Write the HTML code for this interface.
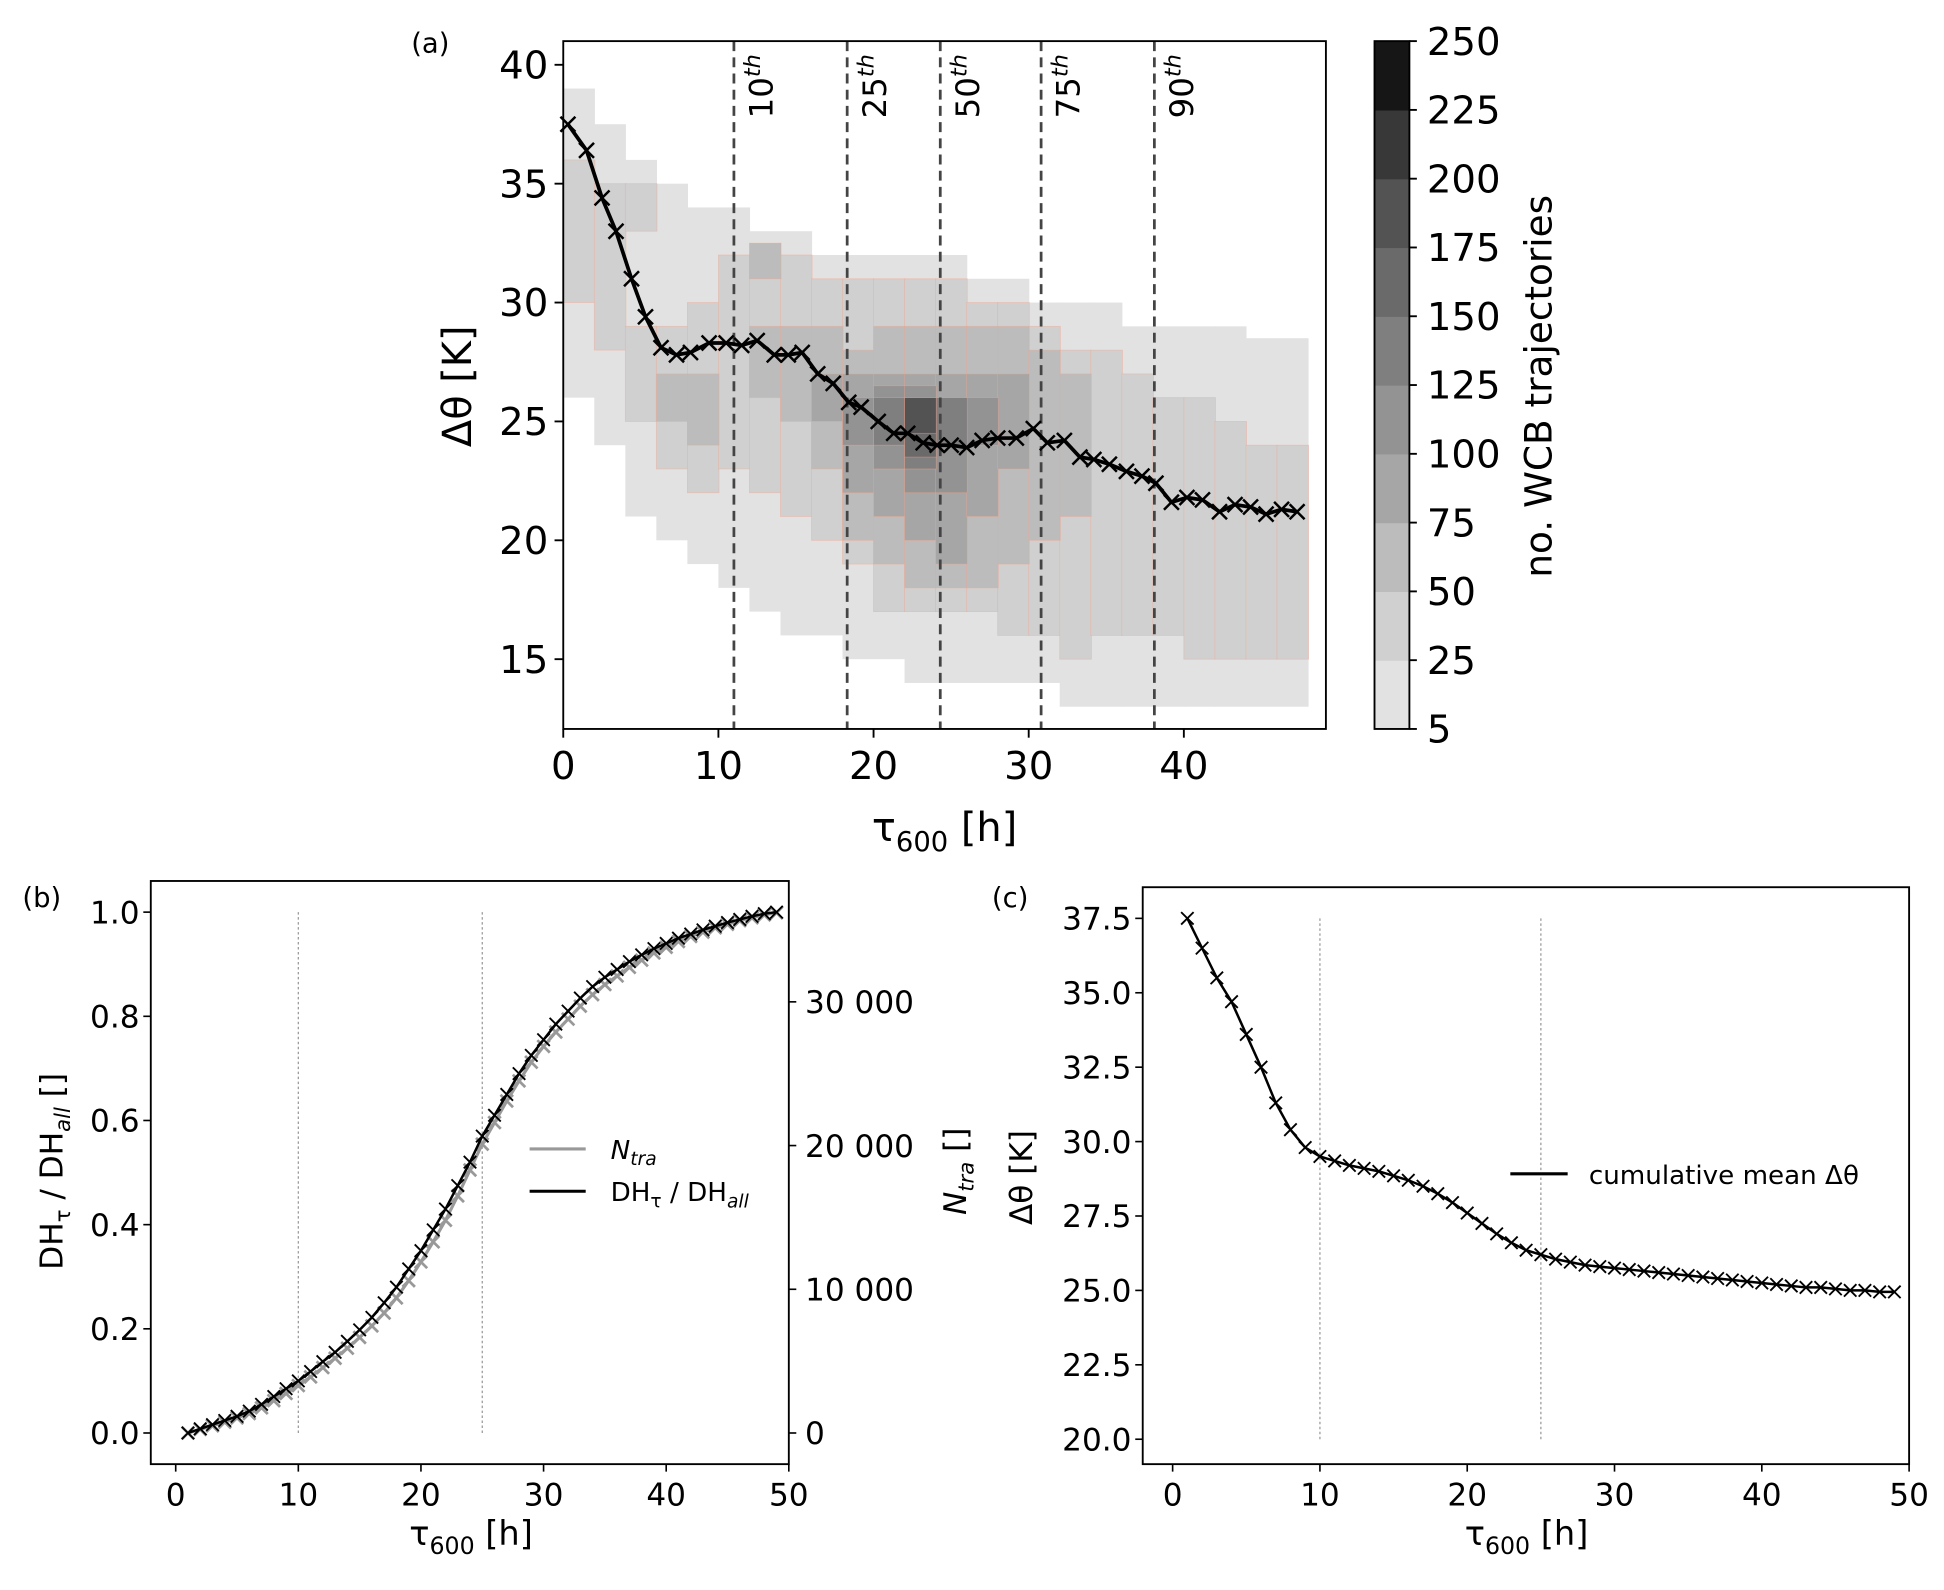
<!DOCTYPE html>
<html><head><meta charset="utf-8"><style>
html,body{margin:0;padding:0;background:#fff}
svg{display:block}
text{font-family:"DejaVu Sans","Liberation Sans",sans-serif;fill:#000}
</style></head><body>
<svg id="fig" width="1944" height="1590" viewBox="0 0 1560 1276" preserveAspectRatio="none" xmlns="http://www.w3.org/2000/svg">
<g id="pa"></g>
<g id="pb"></g>
<g id="pc"></g>
</svg>
<script>
// ---------- Panel (a) data ----------
const aMeanX=[0.3,1.5,2.5,3.4,4.4,5.3,6.3,7.3,8.2,9.4,10.5,11.5,12.5,13.6,14.5,15.4,16.4,17.4,18.4,19.2,20.3,21.3,22.2,23.2,24.1,25,26,27,28,29.2,30.3,31.2,32.3,33.3,34.2,35.2,36.3,37.3,38.2,39.2,40.2,41.2,42.3,43.3,44.3,45.3,46.3,47.3];
const aMeanY=[37.5,36.4,34.4,33,31,29.4,28.1,27.8,27.9,28.3,28.3,28.2,28.4,27.8,27.8,27.9,27,26.6,25.8,25.6,25,24.5,24.5,24.1,24,24,23.9,24.2,24.3,24.3,24.7,24.1,24.2,23.5,23.4,23.2,22.9,22.7,22.4,21.6,21.8,21.7,21.2,21.5,21.4,21.1,21.3,21.2];
const percentileX=[11,18.3,24.3,30.8,38.1];
const percentileLabels=["10","25","50","75","90"];
const densityColStart=[0,2,4,6,8,10,12,14,16,18,20,22,24,26,28,30,32,34,36,38,40,42,44,46];
// each column: list of [level, yLow, yHigh]
const densityBands=[
[[1,26,39],[2,30,36]],
[[1,24,37.5],[2,28,35]],
[[1,21,36],[2,25,29],[2,33,35]],
[[1,20,35],[2,23,29],[3,25,27]],
[[1,19,34],[2,22,30],[3,24,27]],
[[1,18,34],[2,23,32]],
[[1,17,33],[2,22,32],[3,26,29],[3,31,32.5]],
[[1,16,33],[2,21,32],[3,25,29]],
[[1,16,32],[2,20,31],[3,23,29],[4,25,27]],
[[1,15,32],[2,19,31],[3,20,28],[4,22,27],[5,24,26]],
[[1,15,32],[2,17,31],[3,19,29],[4,21,27],[5,23,26.5],[6,24,26]],
[[1,14,32],[2,17,31],[3,18,29],[4,20,27],[5,22,26.5],[6,23,26],[7,23.5,26],[8,24.5,26]],
[[1,14,32],[2,17,31],[3,18,29],[4,19,27],[5,22,26],[6,24,26]],
[[1,14,31],[2,17,30],[3,18,29],[4,21,27],[5,24,26]],
[[1,14,31],[2,16,30],[3,19,29],[4,23,27]],
[[1,14,30],[2,16,29],[3,20,28]],
[[1,13,30],[2,15,28],[3,21,27]],
[[1,13,30],[2,16,28]],
[[1,13,29],[2,16,27]],
[[1,13,29],[2,16,26]],
[[1,13,29],[2,15,26]],
[[1,13,29],[2,15,25]],
[[1,13,28.5],[2,15,24]],
[[1,13,28.5],[2,15,24]]];
const cbTicks=[5,25,50,75,100,125,150,175,200,225,250];
const levelColors=["#fff","#e2e2e2","#d0d0d0","#bcbcbc","#a6a6a6","#939393","#7f7f7f","#6a6a6a","#535353","#383838","#161616"];
const aXTicks=[0,10,20,30,40];
const aYTicks=[15,20,25,30,35,40];

// ---------- Panel (b) data ----------
const bX=[1,2,3,4,5,6,7,8,9,10,11,12,13,14,15,16,17,18,19,20,21,22,23,24,25,26,27,28,29,30,31,32,33,34,35,36,37,38,39,40,41,42,43,44,45,46,47,48,49];
const bDH=[0,0.008,0.016,0.024,0.032,0.042,0.055,0.07,0.085,0.1,0.118,0.137,0.155,0.176,0.198,0.222,0.25,0.28,0.315,0.35,0.39,0.43,0.475,0.52,0.57,0.61,0.65,0.69,0.725,0.755,0.785,0.81,0.835,0.857,0.875,0.89,0.905,0.918,0.93,0.94,0.95,0.958,0.966,0.973,0.98,0.986,0.992,0.997,1.0];
const bNtra=[0,250,500,750,1050,1350,1750,2250,2750,3300,3900,4550,5200,5900,6650,7450,8350,9400,10600,11900,13300,14800,16500,18300,20100,21600,23100,24500,25800,26900,27900,28800,29700,30500,31200,31800,32400,32900,33400,33800,34200,34550,34850,35150,35400,35650,35850,36050,36200];
const bXTicks=[0,10,20,30,40,50];
const bYTicks=[0,0.2,0.4,0.6,0.8,1.0];
const bRTicks=[0,10000,20000,30000];
const bRLabels=["0","10 000","20 000","30 000"];
const bVLines=[10,25];

// ---------- Panel (c) data ----------
const cX=bX;
const cMean=[37.5,36.5,35.5,34.7,33.6,32.5,31.3,30.4,29.8,29.5,29.35,29.2,29.1,29.0,28.85,28.7,28.5,28.25,27.95,27.6,27.25,26.9,26.6,26.35,26.2,26.05,25.95,25.85,25.8,25.75,25.7,25.65,25.6,25.55,25.5,25.45,25.4,25.35,25.3,25.25,25.2,25.15,25.1,25.1,25.05,25.0,25.0,24.95,24.95];
const cXTicks=[0,10,20,30,40,50];
const cYTicks=[20,22.5,25,27.5,30,32.5,35,37.5];
const cVLines=[10,25];

const NS="http://www.w3.org/2000/svg";
function mk(parent,tag,attrs,txt){const e=document.createElementNS(NS,tag);for(const k in attrs)e.setAttribute(k,attrs[k]);if(txt!==undefined)e.textContent=txt;parent.appendChild(e);return e;}
function lin(d0,d1,r0,r1){return v=>r0+(v-d0)*(r1-r0)/(d1-d0);}
function cross(g,x,y,s,col,w){const p=mk(g,'path',{d:`M${x-s},${y-s}L${x+s},${y+s}M${x-s},${y+s}L${x+s},${y-s}`,stroke:col,'stroke-width':w,fill:'none'});}

// ===== Panel A =====
(function(){
const g=document.getElementById('pa');
const L=452,R=1064,T=33,B=585;
const X=lin(0,10,452,576.5), Y=lin(15,40,529,52);
const dens=mk(g,'g',{});
for(let lv=1;lv<=10;lv++){
  densityBands.forEach((col,i)=>{col.forEach(b=>{if(b[0]!==lv)return;
    const x0=X(densityColStart[i]),x1=X(densityColStart[i]+2);
    const r=mk(dens,'rect',{x:x0,y:Y(b[2]),width:x1-x0+0.5,height:Y(b[1])-Y(b[2]),fill:levelColors[lv],stroke:lv>=2?'#f4a58e':'none','stroke-width':0.6,'stroke-opacity':0.5});
    });});
}
percentileX.forEach((p,i)=>{
  const l=mk(g,'line',{x1:X(p),x2:X(p),y1:T,y2:B,stroke:'#444','stroke-width':2.2,'stroke-dasharray':'8,5'});
  
  const t=mk(g,'text',{x:0,y:0,'font-size':26,transform:`translate(${X(p)+31},95) rotate(-90)`});
  
  t.textContent=percentileLabels[i];mk(t,'tspan',{dy:-10,'font-size':18,'font-style':'italic'},'th');
});
const pts=aMeanX.map((x,i)=>X(x)+','+Y(aMeanY[i])).join(' ');
const pl=mk(g,'polyline',{points:pts,fill:'none',stroke:'#000','stroke-width':3});

aMeanX.forEach((x,i)=>cross(g,X(x),Y(aMeanY[i]),6,'#000',2));
const fr=mk(g,'rect',{x:L,y:T,width:R-L,height:B-T,fill:'none',stroke:'#000','stroke-width':1.5});

aXTicks.forEach(v=>{mk(g,'line',{x1:X(v),x2:X(v),y1:B,y2:B+7,stroke:'#000','stroke-width':1.5});
  const t=mk(g,'text',{x:X(v),y:B+40,'font-size':31,'text-anchor':'middle'},v);});
aYTicks.forEach(v=>{mk(g,'line',{x1:L-7,x2:L,y1:Y(v),y2:Y(v),stroke:'#000','stroke-width':1.5});
  const t=mk(g,'text',{x:L-12,y:Y(v)+11,'font-size':31,'text-anchor':'end'},v);});
const xl=mk(g,'text',{x:758,y:675,'font-size':32,'text-anchor':'middle'});
xl.textContent='τ';mk(xl,'tspan',{dy:8,'font-size':22},'600');mk(xl,'tspan',{dy:-8},' [h]');
const yl=mk(g,'text',{x:0,y:0,'font-size':32,'text-anchor':'middle',transform:'translate(378,310) rotate(-90)'},'Δθ [K]');
const lab=mk(g,'text',{x:330,y:42,'font-size':22},'(a)');
// colorbar
const CY=lin(5,250,585,33);
const cb=mk(g,'g',{});
const seg=(585-33)/10;
for(let i=0;i<10;i++){mk(cb,'rect',{x:1103,y:585-seg*(i+1),width:28,height:seg+0.5,fill:levelColors[i+1]});}
mk(cb,'rect',{x:1103,y:33,width:28,height:552,fill:'none',stroke:'#000','stroke-width':1.5});
cbTicks.forEach((v,i)=>{const y=585-seg*i;mk(cb,'line',{x1:1131,x2:1137,y1:y,y2:y,stroke:'#000','stroke-width':1.5});
  const t=mk(cb,'text',{x:1145,y:y+11,'font-size':31},v);});
const cl=mk(g,'text',{x:0,y:0,'font-size':30,'text-anchor':'middle',transform:'translate(1245,310) rotate(-90)'},'no. WCB trajectories');
})();

// ===== Panel B =====
(function(){
const g=document.getElementById('pb');
const L=121,R=633,T=707,B=1175;
const X=lin(0,50,141,633), Y=lin(0,1,1150,732), YR=lin(0,30000,1150,804);
bVLines.forEach(v=>{const l=mk(g,'line',{x1:X(v),x2:X(v),y1:Y(0),y2:Y(1),stroke:'#999','stroke-width':1,'stroke-dasharray':'2,2'});});
const gp=mk(g,'polyline',{points:bX.map((x,i)=>X(x)+','+YR(bNtra[i])).join(' '),fill:'none',stroke:'#999','stroke-width':2.5});

bX.forEach((x,i)=>cross(g,X(x),YR(bNtra[i]),5,'#999',2.2));
const bp=mk(g,'polyline',{points:bX.map((x,i)=>X(x)+','+Y(bDH[i])).join(' '),fill:'none',stroke:'#000','stroke-width':2});

bX.forEach((x,i)=>cross(g,X(x),Y(bDH[i]),5,'#000',1.5));
const fr=mk(g,'rect',{x:L,y:T,width:R-L,height:B-T,fill:'none',stroke:'#000','stroke-width':1.5});
bXTicks.forEach(v=>{mk(g,'line',{x1:X(v),x2:X(v),y1:B,y2:B+6,stroke:'#000','stroke-width':1.3});
  const t=mk(g,'text',{x:X(v),y:B+33,'font-size':25,'text-anchor':'middle'},v);});
bYTicks.forEach(v=>{mk(g,'line',{x1:L-6,x2:L,y1:Y(v),y2:Y(v),stroke:'#000','stroke-width':1.3});
  const t=mk(g,'text',{x:L-9,y:Y(v)+9,'font-size':25,'text-anchor':'end'},v.toFixed(1));});
bRTicks.forEach((v,i)=>{mk(g,'line',{x1:R,x2:R+6,y1:YR(v),y2:YR(v),stroke:'#000','stroke-width':1.3});
  const t=mk(g,'text',{x:R+13,y:YR(v)+9,'font-size':25},bRLabels[i]);});
const xl=mk(g,'text',{x:378,y:1240,'font-size':27,'text-anchor':'middle'});
xl.textContent='τ';mk(xl,'tspan',{dy:7,'font-size':19},'600');mk(xl,'tspan',{dy:-7},' [h]');
const yl=mk(g,'text',{x:0,y:0,'font-size':25,'text-anchor':'middle',transform:'translate(50,940) rotate(-90)'});
yl.textContent='DH';mk(yl,'tspan',{dy:6,'font-size':17},'τ');mk(yl,'tspan',{dy:-6},' / DH');mk(yl,'tspan',{dy:6,'font-size':17,'font-style':'italic'},'all');mk(yl,'tspan',{dy:-6},' []');
const yr=mk(g,'text',{x:0,y:0,'font-size':25,'text-anchor':'middle',transform:'translate(775,940) rotate(-90)'});
mk(yr,'tspan',{'font-style':'italic'},'N');mk(yr,'tspan',{dy:6,'font-size':17,'font-style':'italic'},'tra');mk(yr,'tspan',{dy:-6},' []');
const lg=mk(g,'g',{});
mk(lg,'line',{x1:425,x2:470,y1:922,y2:922,stroke:'#999','stroke-width':2.5});
const t1=mk(lg,'text',{x:490,y:930,'font-size':21});mk(t1,'tspan',{'font-style':'italic'},'N');mk(t1,'tspan',{dy:5,'font-size':15,'font-style':'italic'},'tra');

mk(lg,'line',{x1:425,x2:470,y1:956,y2:956,stroke:'#000','stroke-width':2.5});
const t2=mk(lg,'text',{x:490,y:964,'font-size':21});t2.textContent='DH';mk(t2,'tspan',{dy:5,'font-size':15},'τ');mk(t2,'tspan',{dy:-5},' / DH');mk(t2,'tspan',{dy:5,'font-size':15,'font-style':'italic'},'all');

const lab=mk(g,'text',{x:18,y:728,'font-size':22},'(b)');
})();

// ===== Panel C =====
(function(){
const g=document.getElementById('pc');
const L=917,R=1532,T=712,B=1175;
const X=lin(0,50,941,1532), Y=lin(20,37.5,1155,737);
cVLines.forEach(v=>{const l=mk(g,'line',{x1:X(v),x2:X(v),y1:Y(20),y2:Y(37.5),stroke:'#999','stroke-width':1,'stroke-dasharray':'2,2'});});
const cp=mk(g,'polyline',{points:cX.map((x,i)=>X(x)+','+Y(cMean[i])).join(' '),fill:'none',stroke:'#000','stroke-width':2});

cX.forEach((x,i)=>cross(g,X(x),Y(cMean[i]),5,'#000',1.5));
const fr=mk(g,'rect',{x:L,y:T,width:R-L,height:B-T,fill:'none',stroke:'#000','stroke-width':1.5});
cXTicks.forEach(v=>{mk(g,'line',{x1:X(v),x2:X(v),y1:B,y2:B+6,stroke:'#000','stroke-width':1.3});
  const t=mk(g,'text',{x:X(v),y:B+33,'font-size':25,'text-anchor':'middle'},v);});
cYTicks.forEach(v=>{mk(g,'line',{x1:L-6,x2:L,y1:Y(v),y2:Y(v),stroke:'#000','stroke-width':1.3});
  const t=mk(g,'text',{x:L-9,y:Y(v)+9,'font-size':25,'text-anchor':'end'},v.toFixed(1));});
const xl=mk(g,'text',{x:1225,y:1240,'font-size':27,'text-anchor':'middle'});
xl.textContent='τ';mk(xl,'tspan',{dy:7,'font-size':19},'600');mk(xl,'tspan',{dy:-7},' [h]');
const yl=mk(g,'text',{x:0,y:0,'font-size':25,'text-anchor':'middle',transform:'translate(828,945) rotate(-90)'},'Δθ [K]');
const lg=mk(g,'g',{});
mk(lg,'line',{x1:1212,x2:1258,y1:942,y2:942,stroke:'#000','stroke-width':2.5});
const t=mk(lg,'text',{x:1275,y:950,'font-size':21},'cumulative mean Δθ');
const lab=mk(g,'text',{x:796,y:728,'font-size':22},'(c)');
})();
</script>
</body></html>
